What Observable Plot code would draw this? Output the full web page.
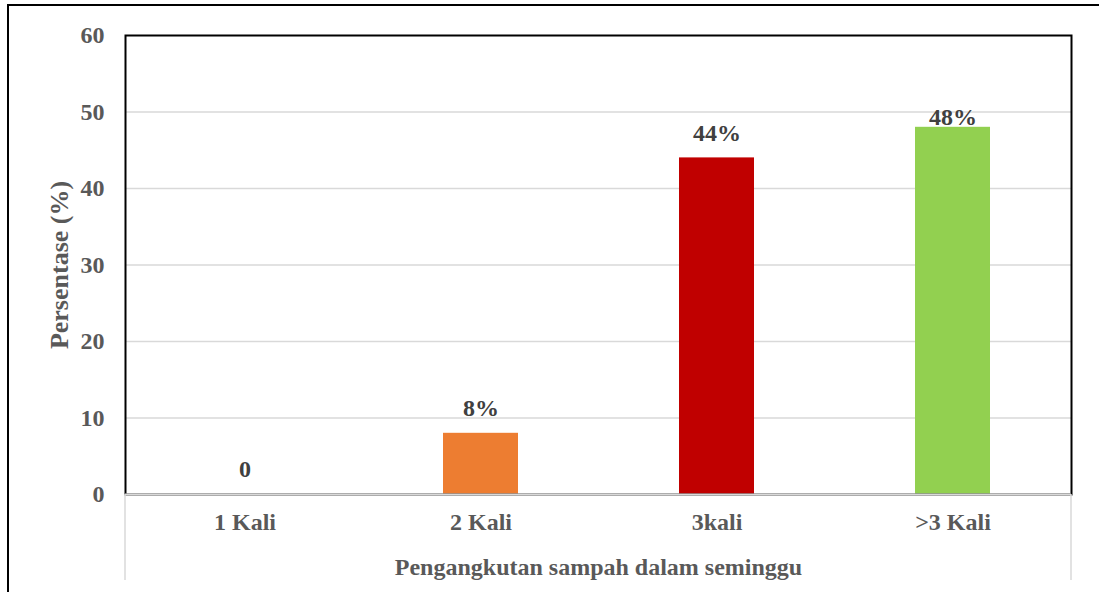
<!DOCTYPE html>
<html>
<head>
<meta charset="utf-8">
<script src="https://cdn.jsdelivr.net/npm/d3@7"></script>
<script src="https://cdn.jsdelivr.net/npm/@observablehq/plot@0.6"></script>
<style>
  html, body { margin: 0; padding: 0; background: #fff; overflow: hidden; }
  #wrap { position: relative; width: 1099px; height: 592px; }
  #edge { position: absolute; left: 7px; top: 4px; width: 1200px; height: 700px;
          border: 2px solid #000; box-sizing: border-box; pointer-events: none; }
  #chart svg { display: block; }
</style>
</head>
<body>
<div id="wrap">
  <div id="chart"></div>
  <div id="edge"></div>
</div>
<script>
// Frekuensi pengangkutan sampah per minggu
const categories = ["1 Kali", "2 Kali", "3kali", ">3 Kali"];
const values = [0, 8, 44, 48];
const colors = ["#ffffff", "#ED7D31", "#C00000", "#92D050"];
const yTicks = [0, 10, 20, 30, 40, 50, 60];

const data = categories.map((c, i) => ({category: c, value: values[i], color: colors[i]}));
const label = d => d.value === 0 ? "0" : `${d.value}%`;

const font = "'Liberation Serif', 'Times New Roman', serif";
const tickColor = "#595959";
const labelColor = "#404040";

// Thin gray extensions of the frame below the category axis
const axisEdges = (index, scales, values, dim) => {
  const g = d3.create("svg:g");
  const y0 = dim.height - dim.marginBottom;
  for (const x of [dim.marginLeft, dim.width - dim.marginRight]) {
    g.append("line")
      .attr("x1", x).attr("x2", x)
      .attr("y1", y0).attr("y2", dim.height - 12)
      .attr("stroke", "#d9d9d9").attr("stroke-width", 1.5);
  }
  return g.node();
};

const chart = Plot.plot({
  width: 1099,
  height: 592,
  marginLeft: 125,
  marginRight: 28,
  marginTop: 35,
  marginBottom: 98,
  style: {fontFamily: font, fontWeight: "bold", background: "#fff"},
  x: {domain: categories, paddingInner: 0.683, paddingOuter: 0.3415, axis: null},
  y: {domain: [0, 60], ticks: yTicks, axis: null},
  marks: [
    Plot.ruleY(yTicks.filter(t => t > 0 && t < 60), {stroke: "#d9d9d9", strokeWidth: 1.5}),
    Plot.barY(data.filter(d => d.value > 0), {x: "category", y: "value", fill: "color"}),
    Plot.frame({stroke: "#000", strokeWidth: 2}),
    Plot.ruleY([0], {stroke: "#d9d9d9", strokeWidth: 2}),
    axisEdges,
    // y tick labels
    Plot.text(yTicks, {
      y: d => d, text: d => `${d}`, frameAnchor: "left", textAnchor: "end", dx: -21,
      fill: tickColor, fontSize: 24, fontWeight: "bold"
    }),
    // category labels
    Plot.text(data, {
      x: "category", text: "category", frameAnchor: "bottom", dy: 28, lineAnchor: "middle",
      textAnchor: "middle", fill: tickColor, fontSize: 24, fontWeight: "bold"
    }),
    // value labels
    Plot.text(data.filter(d => d.category !== ">3 Kali"), {
      x: "category", y: "value", text: label, dy: -25, lineAnchor: "middle",
      fill: labelColor, fontSize: 24, fontWeight: "bold"
    }),
    Plot.text(data.filter(d => d.category === ">3 Kali"), {
      x: "category", y: "value", text: label, dy: -10, lineAnchor: "middle",
      fill: labelColor, fontSize: 24, fontWeight: "bold"
    }),
    // axis titles
    Plot.text(["Pengangkutan sampah dalam seminggu"], {
      text: d => d, frameAnchor: "bottom", dy: 73, lineAnchor: "middle", textAnchor: "middle",
      fill: tickColor, fontSize: 24, fontWeight: "bold"
    }),
    Plot.text(["Persentase (%)"], {
      text: d => d, frameAnchor: "left", dx: -66, rotate: -90, lineAnchor: "middle",
      textAnchor: "middle", fill: tickColor, fontSize: 26, fontWeight: "bold"
    })
  ]
});

document.getElementById("chart").append(chart);
</script>
</body>
</html>
